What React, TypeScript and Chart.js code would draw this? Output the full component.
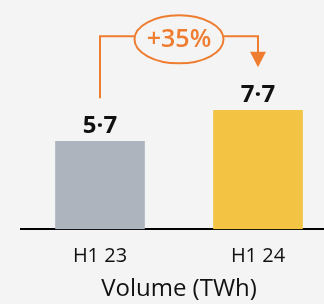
import React, { useEffect, useRef } from "react";
import { Chart, registerables } from "chart.js";

Chart.register(...registerables);

const categories: string[] = ["H1 23", "H1 24"];
const volumes: number[] = [5.7, 7.7];
const barColors: string[] = ["#adb4be", "#f3c443"];
const changeLabel = "+35%";
const axisTitle = "Volume (TWh)";

const ORANGE = "#ee7d31";
const BG = "#f4f4f4";

const fmt = (v: number) => v.toFixed(1).replace(".", "·");

const overlayPlugin = {
  id: "overlay",
  afterDatasetsDraw(chart: any) {
    const ctx = chart.ctx;
    const meta = chart.getDatasetMeta(0);
    const bars = meta.data;
    ctx.save();
    // value labels
    ctx.fillStyle = "#111";
    ctx.font = "bold 24px 'Open Sans'";
    ctx.textAlign = "center";
    ctx.textBaseline = "alphabetic";
    bars.forEach((b: any, i: number) => {
      ctx.fillText(fmt(volumes[i]), b.x, b.y - 8);
    });
    // bracket
    const b0 = bars[0];
    const b1 = bars[1];
    const lineY = Math.min(b0.y, b1.y) - 74;
    const leftBottom = b0.y - 43;
    const tipY = b1.y - 43;
    const midX = (b0.x + b1.x) / 2;
    const rx = 44.5;
    const ry = 24;
    const cy = lineY + 3;
    ctx.strokeStyle = ORANGE;
    ctx.lineWidth = 2;
    ctx.beginPath();
    ctx.moveTo(b0.x, leftBottom);
    ctx.lineTo(b0.x, lineY);
    ctx.lineTo(midX - rx, lineY);
    ctx.moveTo(midX + rx, lineY);
    ctx.lineTo(b1.x, lineY);
    ctx.lineTo(b1.x, tipY - 15);
    ctx.stroke();
    ctx.fillStyle = ORANGE;
    ctx.beginPath();
    ctx.moveTo(b1.x - 8, tipY - 15.5);
    ctx.lineTo(b1.x + 8, tipY - 15.5);
    ctx.lineTo(b1.x, tipY);
    ctx.closePath();
    ctx.fill();
    // ellipse
    ctx.beginPath();
    ctx.ellipse(midX, cy, rx, ry, 0, 0, Math.PI * 2);
    ctx.fillStyle = BG;
    ctx.fill();
    ctx.stroke();
    ctx.fillStyle = ORANGE;
    ctx.font = "600 25px 'Open Sans'";
    ctx.textBaseline = "middle";
    ctx.fillText(changeLabel, midX, cy + 1);
    ctx.restore();
  },
};

export default function App() {
  const ref = useRef<HTMLCanvasElement | null>(null);
  useEffect(() => {
    if (!ref.current) return;
    const chart = new Chart(ref.current, {
      type: "bar",
      data: {
        labels: categories,
        datasets: [
          {
            data: volumes,
            backgroundColor: barColors,
            barThickness: 89,
          },
        ],
      },
      options: {
        responsive: false,
        animation: false,
        devicePixelRatio: 1,
        layout: { padding: { left: 21, right: 0, top: 0, bottom: 0 } },
        plugins: {
          legend: { display: false },
          tooltip: { enabled: false },
        },
        scales: {
          y: { display: false, min: 0, max: 14.85 },
          x: {
            grid: { display: false },
            border: { display: true, color: "#000", width: 2 },
            ticks: {
              color: "#111",
              font: { family: "'Open Sans'", size: 20 },
              padding: 7,
            },
            title: {
              display: true,
              text: axisTitle,
              color: "#111",
              font: { family: "'Open Sans'", size: 24 },
              padding: { top: 0, bottom: 0 },
            },
          },
        },
      },
      plugins: [overlayPlugin],
    });
    return () => chart.destroy();
  }, []);
  return (
    <div
      style={{
        position: "absolute",
        left: 0,
        top: 0,
        width: 324,
        height: 304,
        overflow: "hidden",
        background: BG,
      }}
    >
      <canvas ref={ref} width={337} height={304} style={{ display: "block", width: 337, height: 304 }} />
    </div>
  );
}
